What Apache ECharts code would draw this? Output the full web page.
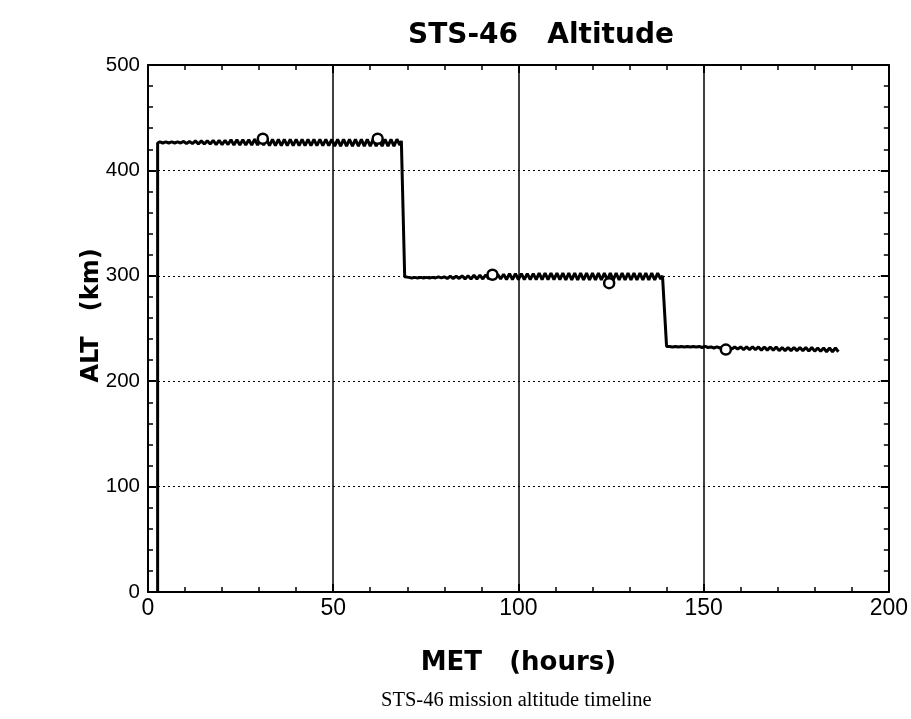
<!DOCTYPE html>
<html>
<head>
<meta charset="utf-8">
<title>STS-46 Altitude</title>
<script src="https://cdn.jsdelivr.net/npm/echarts@6/dist/echarts.min.js"></script>
<style>
  html, body { margin: 0; padding: 0; background: #fff; }
  #chart { width: 911px; height: 719px; }
</style>
</head>
<body>
<div id="chart"></div>
<script>
// Axis ticks
const metTicks = [0, 50, 100, 150, 200];
const altTicks = [0, 100, 200, 300, 400, 500];

// Ascent to first orbit (MET hours, altitude km)
const ascent = [[2.6, 0], [2.6, 426]];

// First orbit segment, sampled every half orbit, ending with the lowering burn
const orbit1 = [
  [3.2, 427], [4.0, 426], [4.8, 427], [5.6, 426], [6.4, 427], [7.2, 426], [8.0, 427], [8.8, 426],
  [9.6, 427.5], [10.4, 425.5], [11.2, 427.5], [12.0, 425.5], [12.8, 428], [13.6, 425], [14.4, 428],
  [15.2, 425], [16.0, 428], [16.8, 425], [17.6, 428.5], [18.4, 424.5], [19.2, 428.5], [20.0, 424.5],
  [20.8, 428.5], [21.6, 424.5], [22.4, 429], [23.2, 424], [24.0, 429], [24.8, 424], [25.6, 429],
  [26.4, 424], [27.2, 429], [28.0, 424], [28.8, 429.5], [29.6, 424], [30.4, 429.5], [31.2, 424],
  [32.0, 429.5], [32.8, 423.5], [33.6, 429.5], [34.4, 423.5], [35.2, 429.5], [36.0, 423.5],
  [36.8, 429.5], [37.6, 423.5], [38.4, 429.5], [39.2, 423.5], [40.0, 429.5], [40.8, 423.5],
  [41.6, 429.5], [42.4, 423.5], [43.2, 429.5], [44.0, 423.5], [44.8, 429.5], [45.6, 423.5],
  [46.4, 429.5], [47.2, 423.5], [48.0, 429.5], [48.8, 423.5], [49.6, 429.5], [50.4, 423],
  [51.2, 429.5], [52.0, 423], [52.8, 429.5], [53.6, 423], [54.4, 429.5], [55.2, 423], [56.0, 429.5],
  [56.8, 423], [57.6, 429.5], [58.4, 423], [59.2, 429.5], [60.0, 423], [60.8, 429.5], [61.6, 423],
  [62.4, 429.5], [63.2, 423], [64.0, 429.5], [64.8, 423], [65.6, 429.5], [66.4, 423], [67.2, 429.5],
  [68.0, 424], [68.4, 428]
];

// Second orbit segment, ending with the second lowering burn
const orbit2 = [
  [69.3, 299], [70.4, 298.5], [71.2, 298], [72.0, 298.5], [72.8, 298], [73.6, 298.5], [74.4, 298],
  [75.2, 298.5], [76.0, 298], [76.8, 298.5], [77.6, 298], [78.4, 299], [79.2, 298], [80.0, 299],
  [80.8, 297.5], [81.6, 299.5], [82.4, 297.5], [83.2, 299.5], [84.0, 297.5], [84.8, 300], [85.6, 297],
  [86.4, 300], [87.2, 297], [88.0, 300.5], [88.8, 297], [89.6, 300.5], [90.4, 297], [91.2, 301],
  [92.0, 297], [92.8, 301], [93.6, 297], [94.4, 301.5], [95.2, 297], [96.0, 301.5], [96.8, 296.5],
  [97.6, 302], [98.4, 296.5], [99.2, 302], [100.0, 296.5], [100.8, 302], [101.6, 296.5], [102.4, 302],
  [103.2, 296.5], [104.0, 302], [104.8, 296.5], [105.6, 302.5], [106.4, 296.5], [107.2, 302.5],
  [108.0, 296.5], [108.8, 302.5], [109.6, 296.5], [110.4, 302.5], [111.2, 296.5], [112.0, 302.5],
  [112.8, 296], [113.6, 302.5], [114.4, 296], [115.2, 302.5], [116.0, 296], [116.8, 302.5],
  [117.6, 296], [118.4, 302.5], [119.2, 296], [120.0, 302.5], [120.8, 296], [121.6, 302.5],
  [122.4, 296], [123.2, 302.5], [124.0, 296], [124.8, 302.5], [125.6, 296], [126.4, 302.5],
  [127.2, 296], [128.0, 302.5], [128.8, 296], [129.6, 302.5], [130.4, 296], [131.2, 302.5],
  [132.0, 296], [132.8, 302.5], [133.6, 296], [134.4, 302.5], [135.2, 296], [136.0, 302.5],
  [136.8, 296], [137.6, 302.5], [138.4, 297], [138.9, 300]
];

// Third orbit segment to end of plotted data
const orbit3 = [
  [140.0, 233], [140.8, 233], [141.6, 232.5], [142.4, 233], [143.2, 232.5], [144.0, 233],
  [144.8, 232.5], [145.6, 233], [146.4, 232.5], [147.2, 233], [148.0, 232.5], [148.8, 233],
  [149.6, 232], [150.4, 233], [151.2, 232], [152.0, 232.5], [152.8, 231.5], [153.6, 232.5],
  [154.4, 231.5], [155.2, 232.5], [156.0, 231], [156.8, 232.5], [157.6, 230.5], [158.4, 232.5],
  [159.2, 230.5], [160.0, 232.5], [160.8, 230], [161.6, 232.5], [162.4, 230], [163.2, 232.5],
  [164.0, 230], [164.8, 232.5], [165.6, 229.5], [166.4, 232.5], [167.2, 229.5], [168.0, 232.5],
  [168.8, 229.5], [169.6, 232.5], [170.4, 229], [171.2, 232], [172.0, 229], [172.8, 232],
  [173.6, 229], [174.4, 232], [175.2, 229], [176.0, 232], [176.8, 229], [177.6, 232],
  [178.4, 228.5], [179.2, 232], [180.0, 228.5], [180.8, 231.5], [181.6, 228.5], [182.4, 231.5],
  [183.2, 228], [184.0, 231.5], [184.8, 228], [185.6, 231.5], [186.4, 228]
];

// Measured check points (open circles)
const checkpoints = [[31, 430], [62, 430], [93, 301], [124.5, 293], [156, 230]];

const trace = ascent.concat(orbit1, orbit2, orbit3);

const labelFont = "'Liberation Sans', Arial, sans-serif";
const boldFont = "'DejaVu Sans', Arial, sans-serif";

const tickStyle = {
  axisLine: { show: true, onZero: false, lineStyle: { color: '#000', width: 2 } },
  axisTick: { show: true, inside: true, length: 8, lineStyle: { color: '#000', width: 2 } },
  minorTick: { show: true, splitNumber: 5, length: 5, lineStyle: { color: '#000', width: 1.5 } }
};

const chart = echarts.init(document.getElementById('chart'), null, { renderer: 'canvas' });

chart.setOption({
  animation: false,
  backgroundColor: '#fff',
  title: {
    text: 'STS-46   Altitude',
    left: 536,
    top: 17,
    textAlign: 'center',
    textStyle: { fontFamily: boldFont, fontWeight: 'bold', fontSize: 28, color: '#000' }
  },
  grid: { left: 148, right: 21, top: 65, bottom: 127, containLabel: false },
  xAxis: [
    Object.assign({
      type: 'value',
      position: 'bottom',
      min: metTicks[0],
      max: metTicks[metTicks.length - 1],
      interval: metTicks[1] - metTicks[0],
      name: 'MET   (hours)',
      nameLocation: 'middle',
      nameGap: 58,
      nameTextStyle: { fontFamily: boldFont, fontWeight: 'bold', fontSize: 26, color: '#000' },
      axisLabel: { color: '#000', fontFamily: labelFont, fontSize: 23, margin: 5 },
      splitLine: { show: true, lineStyle: { color: '#000', width: 1.5, type: 'solid' } }
    }, tickStyle),
    Object.assign({
      type: 'value',
      position: 'top',
      min: metTicks[0],
      max: metTicks[metTicks.length - 1],
      interval: metTicks[1] - metTicks[0],
      axisLabel: { show: false },
      splitLine: { show: false }
    }, tickStyle)
  ],
  yAxis: [
    Object.assign({
      type: 'value',
      position: 'left',
      min: altTicks[0],
      max: altTicks[altTicks.length - 1],
      interval: altTicks[1] - altTicks[0],
      name: 'ALT   (km)',
      nameLocation: 'middle',
      nameGap: 44,
      nameMoveOverlap: false,
      nameRotate: 90,
      nameTextStyle: { fontFamily: boldFont, fontWeight: 'bold', fontSize: 24, color: '#000', padding: [0, 0, 0, 26] },
      axisLabel: { color: '#000', fontFamily: labelFont, fontSize: 20.5, margin: 8 },
      splitLine: { show: true, lineStyle: { color: '#000', width: 1, type: [2, 3] } }
    }, tickStyle),
    Object.assign({
      type: 'value',
      position: 'right',
      min: altTicks[0],
      max: altTicks[altTicks.length - 1],
      interval: altTicks[1] - altTicks[0],
      axisLabel: { show: false },
      splitLine: { show: false }
    }, tickStyle)
  ],
  series: [
    {
      type: 'line',
      data: trace,
      showSymbol: false,
      symbol: 'none',
      lineStyle: { color: '#000', width: 3 },
      z: 3
    },
    {
      type: 'scatter',
      data: checkpoints,
      symbol: 'circle',
      symbolSize: 10,
      itemStyle: { color: '#fff', borderColor: '#000', borderWidth: 2.5, opacity: 1 },
      z: 4
    }
  ],
  graphic: [
    {
      type: 'text',
      left: 381,
      top: 690,
      style: {
        text: 'STS-46 mission altitude timeline',
        fontFamily: "'Liberation Serif', 'Times New Roman', serif",
        fontSize: 20.5,
        fill: '#000'
      }
    }
  ]
});
</script>
</body>
</html>
